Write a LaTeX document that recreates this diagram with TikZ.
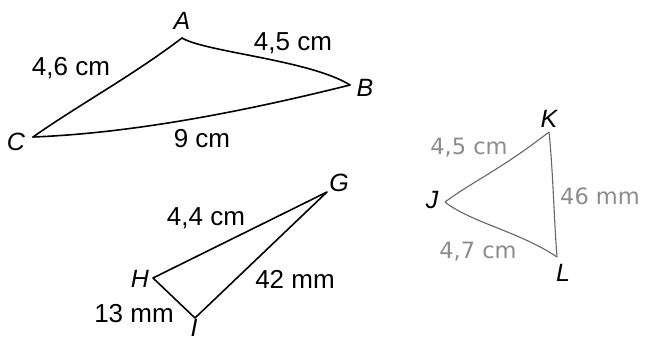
\documentclass[tikz,border=0pt]{standalone}
\usepackage{fontspec}
\setmainfont{Liberation Sans}
\newfontfamily\grayfont{DejaVu Sans}
\begin{document}
\begin{tikzpicture}[x=1pt,y=-1pt,
  edge/.style={line width=1.6pt,line join=round,line cap=round},
  lightedge/.style={line width=1.1pt,draw=black!60,line join=round},
  vlab/.style={font=\fontsize{25}{25}\selectfont\itshape,inner sep=0pt},
  len/.style={font=\fontsize{26}{26}\selectfont,inner sep=0pt},
  lightlen/.style={font=\grayfont\fontsize{22.5}{22.5}\selectfont,inner sep=0pt,text=black!45}]
\useasboundingbox (0,0) rectangle (645,342);
% triangle ABC
\coordinate (A) at (182,38);
\coordinate (B) at (350,85);
\coordinate (C) at (33,137);
\draw[edge] (A) .. controls (205,52) and (310,60) .. (B);
\draw[edge] (A) .. controls (132,76) and (80,104) .. (C);
\draw[edge] (C) .. controls (110,134) and (210,120) .. (B);
\node[vlab] (lA) at (182,21) {A};
\node[vlab] (lB) at (365,88) {B};
\node[vlab] (lC) at (16,142) {C};
\node[len] (lAC) at (71,68) {4,6 cm};
\node[len] (lAB) at (293,43) {4,5 cm};
\node[len] (lCB) at (202,139) {9 cm};
% triangle GHI
\coordinate (G) at (327,192);
\coordinate (H) at (153,278);
\coordinate (I) at (195,318);
\draw[edge] (G) -- (H) -- (I) -- cycle;
\node[vlab] (lG) at (339,183) {G};
\node[vlab] (lH) at (140,279) {H};
\node[vlab] (lI) at (194,328) {I};
\node[len] (lGH) at (206,218) {4,4 cm};
\node[len] (lGI) at (295,279) {42 mm};
\node[len] (lHI) at (134,314) {13 mm};
% triangle JKL
\coordinate (J) at (445,202);
\coordinate (K) at (549,132);
\coordinate (L) at (557,257);
\draw[lightedge] (J) .. controls (475,180) and (500,170) .. (K);
\draw[lightedge] (K) .. controls (553,170) and (554,220) .. (L);
\draw[lightedge] (J) .. controls (470,222) and (520,232) .. (L);
\node[vlab] (lK) at (549,119) {K};
\node[vlab] (lJ) at (432,200) {J};
\node[vlab] (lL) at (563,273) {L};
\node[lightlen] (lJK) at (469,148) {4,5 cm};
\node[lightlen] (lKL) at (600,196) {46 mm};
\node[lightlen] (lJL) at (478,252) {4,7 cm};
\end{tikzpicture}
\end{document}
